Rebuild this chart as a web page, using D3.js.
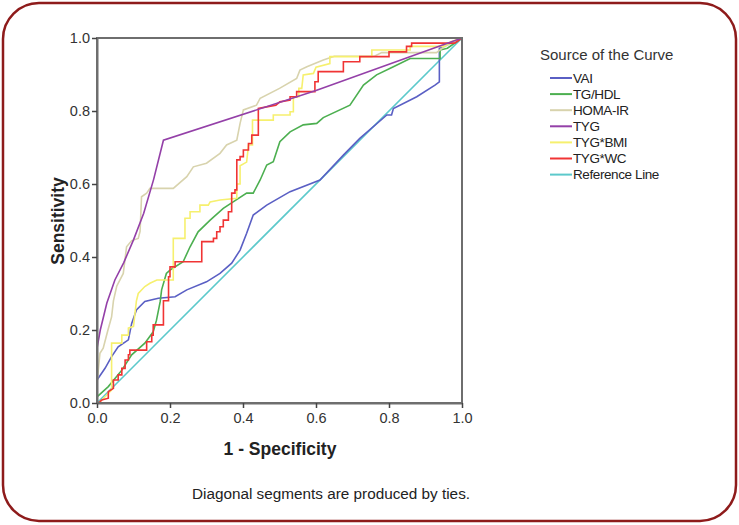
<!DOCTYPE html>
<html>
<head>
<meta charset="utf-8">
<script src="https://cdn.jsdelivr.net/npm/d3@7"></script>
<style>
  html, body { margin: 0; padding: 0; background: #fff; }
  svg { display: block; }
</style>
</head>
<body>
<svg id="chart" width="739" height="525"></svg>
<script>
// ---- Data (1 - Specificity, Sensitivity) ----
const seriesNames = ["VAI", "TG/HDL", "HOMA-IR", "TYG", "TYG*BMI", "TYG*WC", "Reference Line"];
const seriesColors = ["#5a5fc4", "#4caf50", "#d8d3ad", "#9440a8", "#f6f06e", "#f03434", "#5cc9cb"];

const vai = [[0,0],[0,0.063],[0.022,0.095],[0.04,0.127],[0.058,0.154],[0.086,0.173],[0.095,0.218],[0.108,0.255],[0.131,0.278],[0.168,0.287],[0.214,0.291],[0.246,0.31],[0.3,0.332],[0.337,0.355],[0.369,0.383],[0.392,0.419],[0.41,0.465],[0.428,0.515],[0.465,0.542],[0.529,0.579],[0.611,0.611],[0.675,0.679],[0.72,0.725],[0.794,0.789],[0.807,0.789],[0.812,0.807],[0.876,0.839],[0.926,0.871],[0.938,0.88],[0.938,0.972],[1,1]];
const tgHdl = [[0,0],[0,0.017],[0.031,0.045],[0.068,0.09],[0.095,0.132],[0.131,0.164],[0.154,0.195],[0.163,0.227],[0.173,0.277],[0.177,0.31],[0.19,0.355],[0.2,0.364],[0.236,0.387],[0.255,0.428],[0.277,0.469],[0.31,0.501],[0.346,0.533],[0.373,0.551],[0.41,0.575],[0.428,0.575],[0.447,0.611],[0.465,0.652],[0.483,0.661],[0.501,0.716],[0.529,0.743],[0.565,0.762],[0.602,0.766],[0.62,0.782],[0.693,0.816],[0.73,0.871],[0.766,0.899],[0.812,0.921],[0.858,0.944],[0.94,0.944],[0.94,0.967],[0.96,0.972],[1,1]];
const homaIr = [[0,0],[0,0.054],[0.008,0.136],[0.017,0.15],[0.03,0.2],[0.04,0.236],[0.045,0.28],[0.054,0.32],[0.072,0.355],[0.081,0.428],[0.095,0.445],[0.113,0.451],[0.118,0.47],[0.122,0.565],[0.136,0.575],[0.145,0.588],[0.209,0.588],[0.246,0.62],[0.264,0.647],[0.3,0.657],[0.337,0.684],[0.355,0.707],[0.383,0.72],[0.392,0.766],[0.401,0.803],[0.437,0.816],[0.447,0.835],[0.5,0.862],[0.547,0.889],[0.556,0.912],[0.575,0.921],[0.62,0.94],[0.65,0.95],[0.76,0.95],[0.78,0.96],[0.93,0.96],[0.95,0.975],[1,1]];
const tyg = [[0,0],[0,0.15],[0.009,0.2],[0.027,0.274],[0.049,0.337],[0.073,0.384],[0.1,0.447],[0.128,0.52],[0.155,0.612],[0.182,0.72],[0.6,0.856],[1,1]];
const tygBmi = [[0,0],[0.005,0],[0.027,0.022],[0.04,0.036],[0.04,0.164],[0.068,0.164],[0.068,0.186],[0.086,0.186],[0.086,0.205],[0.1,0.21],[0.108,0.28],[0.113,0.3],[0.131,0.319],[0.145,0.328],[0.164,0.337],[0.209,0.337],[0.209,0.451],[0.241,0.451],[0.241,0.506],[0.255,0.506],[0.255,0.524],[0.282,0.524],[0.282,0.542],[0.305,0.542],[0.31,0.551],[0.337,0.556],[0.383,0.561],[0.383,0.6],[0.392,0.6],[0.392,0.65],[0.41,0.66],[0.415,0.707],[0.426,0.707],[0.426,0.775],[0.483,0.775],[0.483,0.789],[0.529,0.789],[0.529,0.798],[0.538,0.798],[0.538,0.839],[0.553,0.839],[0.553,0.862],[0.561,0.862],[0.565,0.899],[0.593,0.903],[0.6,0.92],[0.638,0.93],[0.638,0.949],[0.753,0.949],[0.753,0.967],[0.858,0.967],[0.858,0.977],[0.95,0.977],[0.97,0.99],[1,1]];
const tygWc = [[0,0],[0.004,0],[0.013,0.008],[0.031,0.013],[0.031,0.031],[0.045,0.04],[0.045,0.063],[0.058,0.063],[0.058,0.077],[0.068,0.077],[0.068,0.095],[0.077,0.095],[0.077,0.118],[0.086,0.118],[0.086,0.132],[0.09,0.132],[0.09,0.145],[0.136,0.145],[0.136,0.168],[0.15,0.168],[0.15,0.186],[0.154,0.186],[0.154,0.214],[0.182,0.214],[0.182,0.28],[0.196,0.28],[0.196,0.346],[0.2,0.346],[0.2,0.373],[0.214,0.373],[0.214,0.387],[0.287,0.387],[0.287,0.442],[0.319,0.442],[0.319,0.451],[0.328,0.451],[0.328,0.469],[0.337,0.469],[0.337,0.483],[0.346,0.483],[0.346,0.501],[0.36,0.501],[0.36,0.524],[0.369,0.524],[0.369,0.575],[0.378,0.575],[0.378,0.584],[0.383,0.584],[0.383,0.666],[0.392,0.666],[0.392,0.675],[0.401,0.675],[0.401,0.693],[0.415,0.693],[0.415,0.711],[0.424,0.711],[0.424,0.734],[0.442,0.734],[0.442,0.807],[0.49,0.816],[0.501,0.825],[0.529,0.83],[0.529,0.839],[0.547,0.839],[0.547,0.853],[0.597,0.853],[0.597,0.88],[0.606,0.88],[0.606,0.908],[0.675,0.908],[0.675,0.935],[0.72,0.935],[0.72,0.949],[0.8,0.949],[0.8,0.962],[0.848,0.962],[0.848,0.977],[0.862,0.977],[0.862,0.986],[0.98,0.986],[1,1]];
const referenceLine = [[0,0],[1,1]];

const seriesData = [vai, tgHdl, homaIr, tyg, tygBmi, tygWc, referenceLine];
const tickValues = [0, 0.2, 0.4, 0.6, 0.8, 1.0];

// ---- Layout ----
const svg = d3.select("#chart");
const plot = { left: 97, top: 38, right: 462, bottom: 403 };
const FONT = "Arial, 'Liberation Sans', sans-serif";

// Rounded frame
svg.append("rect")
  .attr("x", 3).attr("y", 3).attr("width", 733).attr("height", 518)
  .attr("rx", 36).attr("ry", 36)
  .attr("fill", "#fff").attr("stroke", "#8e1b1b").attr("stroke-width", 2.5);

const x = d3.scaleLinear().domain([0, 1]).range([plot.left, plot.right]);
const y = d3.scaleLinear().domain([0, 1]).range([plot.bottom, plot.top]);

const line = d3.line().x(d => x(d[0])).y(d => y(d[1]));

const drawOrder = [6, 0, 1, 2, 4, 5, 3];
const g = svg.append("g");
drawOrder.forEach(i => {
  g.append("path")
    .datum(seriesData[i])
    .attr("d", line)
    .attr("fill", "none")
    .attr("stroke", seriesColors[i])
    .attr("stroke-width", 1.6)
    .attr("stroke-linejoin", "miter");
});

// Plot frame
svg.append("rect")
  .attr("x", plot.left).attr("y", plot.top)
  .attr("width", plot.right - plot.left).attr("height", plot.bottom - plot.top)
  .attr("fill", "none").attr("stroke", "#6e6e6e").attr("stroke-width", 2);

// Axes
const fmt = d3.format(".1f");
const xAxis = svg.append("g")
  .attr("transform", `translate(0,${plot.bottom})`)
  .call(d3.axisBottom(x).tickValues(tickValues).tickFormat(fmt).tickSize(5).tickSizeOuter(0));
const yAxis = svg.append("g")
  .attr("transform", `translate(${plot.left},0)`)
  .call(d3.axisLeft(y).tickValues(tickValues).tickFormat(fmt).tickSize(5).tickSizeOuter(0));

[xAxis, yAxis].forEach(ax => {
  ax.select(".domain").attr("stroke", "#6e6e6e").attr("stroke-width", 2);
  ax.selectAll(".tick line").attr("stroke", "#444").attr("stroke-width", 1.5);
  ax.selectAll(".tick text")
    .attr("fill", "#333")
    .style("font-family", FONT)
    .style("font-size", "14.5px");
});
xAxis.selectAll(".tick text").attr("dy", "0.85em");
yAxis.selectAll(".tick text").attr("x", -7);

// Axis titles
svg.append("text")
  .attr("x", 280).attr("y", 455)
  .attr("text-anchor", "middle")
  .attr("fill", "#222")
  .style("font-family", FONT)
  .style("font-size", "17.5px").style("font-weight", "bold")
  .text("1 - Specificity");

svg.append("text")
  .attr("transform", "translate(64,221) rotate(-90)")
  .attr("text-anchor", "middle")
  .attr("fill", "#222")
  .style("font-family", FONT)
  .style("font-size", "17.5px").style("font-weight", "bold")
  .text("Sensitivity");

// Footnote
svg.append("text")
  .attr("x", 331).attr("y", 499)
  .attr("text-anchor", "middle")
  .attr("fill", "#222")
  .style("font-family", FONT)
  .style("font-size", "15.3px")
  .text("Diagonal segments are produced by ties.");

// Legend
const legend = svg.append("g");
legend.append("text")
  .attr("x", 540).attr("y", 60)
  .attr("fill", "#333")
  .style("font-family", FONT)
  .style("font-size", "15px")
  .text("Source of the Curve");

seriesNames.forEach((name, i) => {
  const cy = 78 + i * 16.1;
  legend.append("line")
    .attr("x1", 550).attr("x2", 572)
    .attr("y1", cy).attr("y2", cy)
    .attr("stroke", seriesColors[i]).attr("stroke-width", 2);
  legend.append("text")
    .attr("x", 573).attr("y", cy + 4.6)
    .attr("fill", "#222")
    .style("font-family", FONT)
    .style("font-size", "13.5px")
    .style("letter-spacing", "-0.4px")
    .text(name);
});
</script>
</body>
</html>
